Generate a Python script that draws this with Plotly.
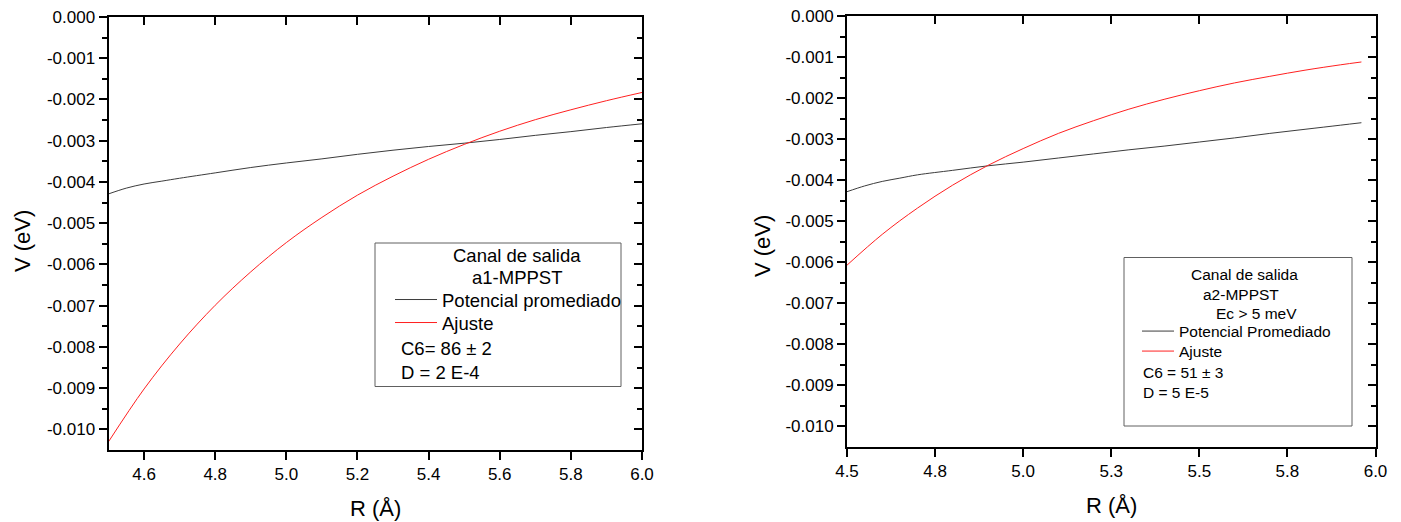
import plotly.graph_objects as go

# ---------------- data ----------------
R_pot_a1 = [4.50, 4.55, 4.60, 4.65, 4.70, 4.80, 4.90, 5.00, 5.10, 5.20, 5.30,
            5.40, 5.50, 5.60, 5.70, 5.80, 5.90, 6.00]
V_pot_a1 = [-0.00429, -0.00415, -0.00405, -0.00398, -0.00391, -0.00378, -0.00365,
            -0.00354, -0.00344, -0.00333, -0.00323, -0.00314, -0.00306, -0.00297,
            -0.00287, -0.00278, -0.00268, -0.00259]
R_fit_a1 = [4.50, 4.60, 4.70, 4.80, 4.90, 5.00, 5.10, 5.20, 5.30, 5.40, 5.50,
            5.60, 5.70, 5.80, 5.90, 6.00]
V_fit_a1 = [-0.01030, -0.00902, -0.00793, -0.00699, -0.00618, -0.00547, -0.00486,
            -0.00432, -0.00386, -0.00345, -0.00309, -0.00277, -0.00249, -0.00225,
            -0.00203, -0.00183]

R_pot_a2 = [4.50, 4.55, 4.60, 4.65, 4.70, 4.80, 4.90, 5.00, 5.10, 5.20, 5.30,
            5.40, 5.50, 5.60, 5.70, 5.80, 5.90, 5.96]
V_pot_a2 = [-0.00428, -0.00414, -0.00403, -0.00395, -0.00387, -0.00376, -0.00365,
            -0.00356, -0.00346, -0.00336, -0.00326, -0.00317, -0.00307, -0.00297,
            -0.00286, -0.00276, -0.00266, -0.00260]
R_fit_a2 = [4.50, 4.60, 4.70, 4.80, 4.90, 5.00, 5.10, 5.20, 5.30, 5.40, 5.50,
            5.60, 5.70, 5.80, 5.90, 5.96]
V_fit_a2 = [-0.00607, -0.00532, -0.00468, -0.00412, -0.00364, -0.00323, -0.00286,
            -0.00255, -0.00227, -0.00203, -0.00182, -0.00163, -0.00147, -0.00132,
            -0.00119, -0.00112]

x_ticks_a1 = [4.6, 4.8, 5.0, 5.2, 5.4, 5.6, 5.8, 6.0]
x_labels_a1 = ["4.6", "4.8", "5.0", "5.2", "5.4", "5.6", "5.8", "6.0"]
x_ticks_a2 = [4.5, 4.75, 5.0, 5.25, 5.5, 5.75, 6.0]
x_labels_a2 = ["4.5", "4.8", "5.0", "5.3", "5.5", "5.8", "6.0"]
y_ticks = [0.0, -0.001, -0.002, -0.003, -0.004, -0.005, -0.006, -0.007, -0.008,
           -0.009, -0.010]
y_labels = ["0.000", "-0.001", "-0.002", "-0.003", "-0.004", "-0.005", "-0.006",
            "-0.007", "-0.008", "-0.009", "-0.010"]
y_minor = [-0.0005, -0.0015, -0.0025, -0.0035, -0.0045, -0.0055, -0.0065,
           -0.0075, -0.0085, -0.0095]

# ---------------- layout helpers ----------------
W, H = 1401, 522
FONT = "Liberation Sans, Arial, sans-serif"


def px(x):
    return x / W


def py(y):
    return 1 - y / H


dom_x1 = [px(108.5), px(642)]
dom_y1 = [py(450), py(17)]
dom_x2 = [px(847), px(1375.5)]
dom_y2 = [py(447), py(16)]

fig = go.Figure()
BLACK = "#3c3c3c"
RED = "#ff2020"

fig.add_trace(go.Scatter(x=R_pot_a1, y=V_pot_a1, mode="lines", name="Potencial promediado",
                         line=dict(color=BLACK, width=1, shape="spline"),
                         xaxis="x", yaxis="y", legend="legend"))
fig.add_trace(go.Scatter(x=R_fit_a1, y=V_fit_a1, mode="lines", name="Ajuste",
                         line=dict(color=RED, width=1, shape="spline"),
                         xaxis="x", yaxis="y", legend="legend2"))
fig.add_trace(go.Scatter(x=R_pot_a2, y=V_pot_a2, mode="lines", name="Potencial Promediado",
                         line=dict(color=BLACK, width=1, shape="spline"),
                         xaxis="x2", yaxis="y2", legend="legend3"))
fig.add_trace(go.Scatter(x=R_fit_a2, y=V_fit_a2, mode="lines", name="Ajuste",
                         line=dict(color=RED, width=1, shape="spline"),
                         xaxis="x2", yaxis="y2", legend="legend4"))
# empty helper traces so the mirrored frame axes (top / right) are drawn
fig.add_trace(go.Scatter(x=[None], y=[None], xaxis="x3", yaxis="y3", showlegend=False,
                         hoverinfo="skip"))
fig.add_trace(go.Scatter(x=[None], y=[None], xaxis="x4", yaxis="y4", showlegend=False,
                         hoverinfo="skip"))

tickfont = dict(family=FONT, size=17, color="black")
common = dict(showgrid=False, zeroline=False, showline=True, linecolor="black",
              linewidth=2, tickcolor="black", tickwidth=2, tickfont=tickfont,
              tickmode="array", fixedrange=True, automargin=False)


def leg(x, y, size, iw):
    return dict(x=px(x), y=py(y), xanchor="left", yanchor="top",
                bgcolor="rgba(0,0,0,0)", borderwidth=0, itemwidth=iw,
                font=dict(family=FONT, size=size, color="black"))


fig.update_layout(
    width=W, height=H, autosize=False,
    margin=dict(l=0, r=0, t=0, b=0, pad=0, autoexpand=False),
    paper_bgcolor="white", plot_bgcolor="white",
    font=dict(family=FONT, color="black"),
    xaxis=dict(domain=dom_x1, anchor="y", range=[4.5, 6.0], tickvals=x_ticks_a1,
               ticktext=x_labels_a1, ticks="outside", ticklen=8, **common),
    yaxis=dict(domain=dom_y1, anchor="x", range=[-0.0105, 0.0], tickvals=y_ticks,
               ticktext=y_labels, ticks="outside", ticklen=8,
               minor=dict(tickvals=y_minor, ticks="outside", ticklen=5, tickwidth=2,
                          tickcolor="black", showgrid=False), **common),
    xaxis3=dict(domain=dom_x1, anchor="y3", overlaying="x", side="top", range=[4.5, 6.0],
                tickvals=x_ticks_a1, ticks="inside", ticklen=8, showticklabels=False,
                **common),
    yaxis3=dict(domain=dom_y1, anchor="x3", overlaying="y", side="right",
                range=[-0.0105, 0.0], tickvals=y_ticks, ticks="inside", ticklen=8,
                showticklabels=False,
                minor=dict(tickvals=y_minor, ticks="inside", ticklen=5, tickwidth=2,
                           tickcolor="black", showgrid=False), **common),
    xaxis2=dict(domain=dom_x2, anchor="y2", range=[4.5, 6.0], tickvals=x_ticks_a2,
                ticktext=x_labels_a2, ticks="outside", ticklen=8, **common),
    yaxis2=dict(domain=dom_y2, anchor="x2", range=[-0.0105, 0.0], tickvals=y_ticks,
                ticktext=y_labels, ticks="outside", ticklen=8,
                minor=dict(tickvals=y_minor, ticks="outside", ticklen=5, tickwidth=2,
                           tickcolor="black", showgrid=False), **common),
    xaxis4=dict(domain=dom_x2, anchor="y4", overlaying="x2", side="top", range=[4.5, 6.0],
                tickvals=x_ticks_a2, ticks="inside", ticklen=8, showticklabels=False,
                **common),
    yaxis4=dict(domain=dom_y2, anchor="x4", overlaying="y2", side="right",
                range=[-0.0105, 0.0], tickvals=y_ticks, ticks="inside", ticklen=8,
                showticklabels=False,
                minor=dict(tickvals=y_minor, ticks="inside", ticklen=5, tickwidth=2,
                           tickcolor="black", showgrid=False), **common),
    legend=leg(390, 281, 18.5, 42),
    legend2=leg(390, 304, 18.5, 42),
    legend3=leg(1137, 314.5, 15.5, 32),
    legend4=leg(1137, 334.5, 15.5, 32),
    showlegend=True,
)

fig.add_shape(type="rect", xref="paper", yref="paper",
              x0=px(375), x1=px(621), y0=py(386.5), y1=py(243),
              line=dict(color="#606060", width=1), fillcolor="rgba(0,0,0,0)")
fig.add_shape(type="rect", xref="paper", yref="paper",
              x0=px(1124), x1=px(1352), y0=py(426), y1=py(257.5),
              line=dict(color="#606060", width=1), fillcolor="rgba(0,0,0,0)")


def note(text, x, y, size, xanchor="center", angle=0):
    fig.add_annotation(text=text, x=px(x), y=py(y), xref="paper", yref="paper",
                       xanchor=xanchor, yanchor="middle", showarrow=False,
                       textangle=angle, font=dict(family=FONT, size=size, color="black"))


note("Canal de salida", 517, 255, 18.5)
note("a1-MPPST", 517, 277, 18.5)
note("C6= 86 \u00b1 2", 399, 348, 18.5, xanchor="left")
note("D = 2 E-4", 399, 372, 18.5, xanchor="left")
note("Canal de salida", 1244.5, 274, 15.5)
note("a2-MPPST", 1241, 294, 15.5)
note("Ec > 5 meV", 1256, 313, 15.5)
note("C6 = 51 \u00b1 3", 1141, 372, 15.5, xanchor="left")
note("D = 5 E-5", 1141, 392, 15.5, xanchor="left")

note("R (\u00c5)", 375.5, 508, 22)
note("R (\u00c5)", 1111.5, 505, 22)
note("V (eV)", 22, 241, 22, angle=-90)
note("V (eV)", 762, 246, 22, angle=-90)

fig.write_html("out.html", config={"displayModeBar": False},
               post_script="document.body.style.margin='0';")
